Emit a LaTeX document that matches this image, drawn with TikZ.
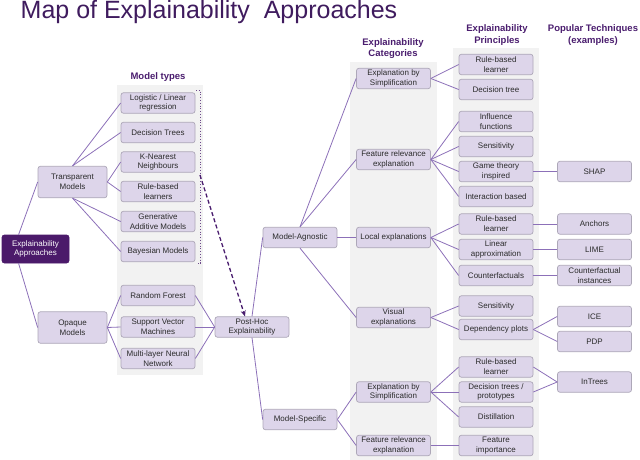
\documentclass[tikz,border=0pt]{standalone}
\usepackage{fontspec}
\setmainfont{Liberation Sans}
\usetikzlibrary{calc,arrows.meta}
\definecolor{boxc}{HTML}{DDD5EA}
\definecolor{bordc}{HTML}{ADA7B8}
\definecolor{linec}{HTML}{8C70B8}
\definecolor{headc}{HTML}{4A1D6E}
\definecolor{titlec}{HTML}{3F1B5E}
\definecolor{bandc}{HTML}{F2F2F2}
\definecolor{txtc}{HTML}{2B2B2B}
\definecolor{darkbox}{HTML}{4B1A6A}
\begin{document}
\begin{tikzpicture}[x=1pt,y=-1pt,
  box/.style={draw=bordc, fill=boxc, line width=0.7pt, rounded corners=2.5pt,
    minimum width=74pt, minimum height=20.5pt, inner sep=1pt, align=center,
    font=\fontsize{8}{9.8}\selectfont, text=txtc},
  wide/.style={box, minimum width=69pt, minimum height=31.5pt},
  dark/.style={box, fill=darkbox, draw=darkbox, text=white, minimum width=67pt, minimum height=28pt},
  hdr/.style={font=\fontsize{9.5}{11.5}\selectfont\bfseries, text=headc, align=center, inner sep=0pt},
  edge/.style={draw=linec, line width=0.8pt},
  bandshape/.style={fill=bandc, draw=none}]
\useasboundingbox (0,0) rectangle (640,460);
% bands
\fill[bandshape] (117,85) rectangle (203,375);
\fill[bandshape] (350,62) rectangle (437,460);
\fill[bandshape] (453,48) rectangle (539,460);
% title and headers
\node[anchor=base west, font=\fontsize{25}{30}\selectfont, text=titlec, inner sep=0pt] (title) at (20.5,18.5) {Map of Explainability~ Approaches};
\node[hdr] (hmt) at (158,77) {Model types};
\node[hdr] (hcat) at (393,48.5) {Explainability\\Categories};
\node[hdr] (hpr) at (497,35) {Explainability\\Principles};
\node[hdr] (hpt) at (593,35) {Popular Techniques\\(examples)};
% root and model groups
\node[dark] (ea) at (35.5,249) {Explainability\\Approaches};
\node[wide] (tm) at (72.5,182) {Transparent\\Models};
\node[wide] (om) at (72.5,327.5) {Opaque\\Models};
% model types
\node[box] (lr) at (158,103) {Logistic / Linear\\regression};
\node[box] (dt) at (158,132.5) {Decision Trees};
\node[box] (knn) at (158,162) {K-Nearest\\Neighbours};
\node[box] (rbl) at (158,191.5) {Rule-based\\learners};
\node[box] (gam) at (158,221.5) {Generative\\Additive Models};
\node[box] (bay) at (158,251.5) {Bayesian Models};
\node[box] (rf) at (158,295.5) {Random Forest};
\node[box] (svm) at (158,327) {Support Vector\\Machines};
\node[box] (mlnn) at (158,358.5) {Multi-layer Neural\\Network};
% post-hoc
\node[box] (ph) at (252,327) {Post-Hoc\\Explainability};
\node[box] (ma) at (300,237.5) {Model-Agnostic};
\node[box] (ms) at (300,419.5) {Model-Specific};
% categories
\node[box] (es1) at (393.5,78.5) {Explanation by\\Simplification};
\node[box] (fr1) at (393.5,159.5) {Feature relevance\\explanation};
\node[box] (le) at (393.5,237.5) {Local explanations};
\node[box] (ve) at (393.5,317.5) {Visual\\explanations};
\node[box] (es2) at (393.5,392) {Explanation by\\Simplification};
\node[box] (fr2) at (393.5,445.5) {Feature relevance\\explanation};
% principles
\node[box] (p1) at (496,64.5) {Rule-based\\learner};
\node[box] (p2) at (496,89.5) {Decision tree};
\node[box] (p3) at (496,121.5) {Influence\\functions};
\node[box] (p4) at (496,146.5) {Sensitivity};
\node[box] (p5) at (496,171.5) {Game theory\\inspired};
\node[box] (p6) at (496,196.5) {Interaction based};
\node[box] (p7) at (496,224) {Rule-based\\learner};
\node[box] (p8) at (496,249.5) {Linear\\approximation};
\node[box] (p9) at (496,275.5) {Counterfactuals};
\node[box] (p10) at (496,306) {Sensitivity};
\node[box] (p11) at (496,329.5) {Dependency plots};
\node[box] (p12) at (496,367) {Rule-based\\learner};
\node[box] (p13) at (496,392) {Decision trees /\\prototypes};
\node[box] (p14) at (496,417) {Distillation};
\node[box] (p15) at (496,445.5) {Feature\\importance};
% techniques
\node[box] (shap) at (594.5,171.5) {SHAP};
\node[box] (anc) at (594.5,224) {Anchors};
\node[box] (lime) at (594.5,249.5) {LIME};
\node[box] (ci) at (594.5,275.5) {Counterfactual\\instances};
\node[box] (ice) at (594.5,316.5) {ICE};
\node[box] (pdp) at (594.5,341.5) {PDP};
\node[box] (intr) at (594.5,382) {InTrees};
% edges
\draw[edge] ($(ea.north west)!0.25!(ea.north east)$) -- (tm.west);
\draw[edge] ($(ea.south west)!0.25!(ea.south east)$) -- (om.west);
\draw[edge] (tm.north) -- (lr.west);
\draw[edge] (tm.north) -- (dt.west);
\draw[edge] (tm.east) -- (knn.west);
\draw[edge] (tm.east) -- (rbl.west);
\draw[edge] (tm.south) -- (gam.west);
\draw[edge] (tm.south) -- (bay.west);
\draw[edge] (om.east) -- (rf.west);
\draw[edge] (om.east) -- (svm.west);
\draw[edge] (om.east) -- (mlnn.west);
\draw[edge] (rf.east) -- (ph.west);
\draw[edge] (svm.east) -- (ph.west);
\draw[edge] (mlnn.east) -- (ph.west);
\draw[edge] (ph.north) -- (ma.west);
\draw[edge] (ph.south) -- (ms.west);
\draw[edge] (ma.north) -- (es1.west);
\draw[edge] (ma.north) -- (fr1.west);
\draw[edge] (ma.east) -- (le.west);
\draw[edge] (ma.south) -- (ve.west);
\draw[edge] (ms.east) -- (es2.west);
\draw[edge] (ms.east) -- (fr2.west);
\foreach \a/\b in {es1/p1,es1/p2,fr1/p3,fr1/p4,fr1/p5,fr1/p6,le/p7,le/p8,le/p9,ve/p10,ve/p11,es2/p12,es2/p13,es2/p14,fr2/p15,p5/shap,p7/anc,p8/lime,p9/ci,p11/ice,p11/pdp,p12/intr,p13/intr}
  \draw[edge] (\a.east) -- (\b.west);
% bracket and dashed arrow
\draw[headc!80, line width=0.8pt, dotted] (196,90.5) -- (200.5,90.5) -- (200.5,263) -- (196,263);
\coordinate (br) at (200,175);
\draw[headc, line width=1.3pt, dash pattern=on 4pt off 2.5pt, -{Stealth[length=6pt,width=5pt]}] (br) -- ([xshift=-7pt]ph.north);
\end{tikzpicture}
\end{document}
